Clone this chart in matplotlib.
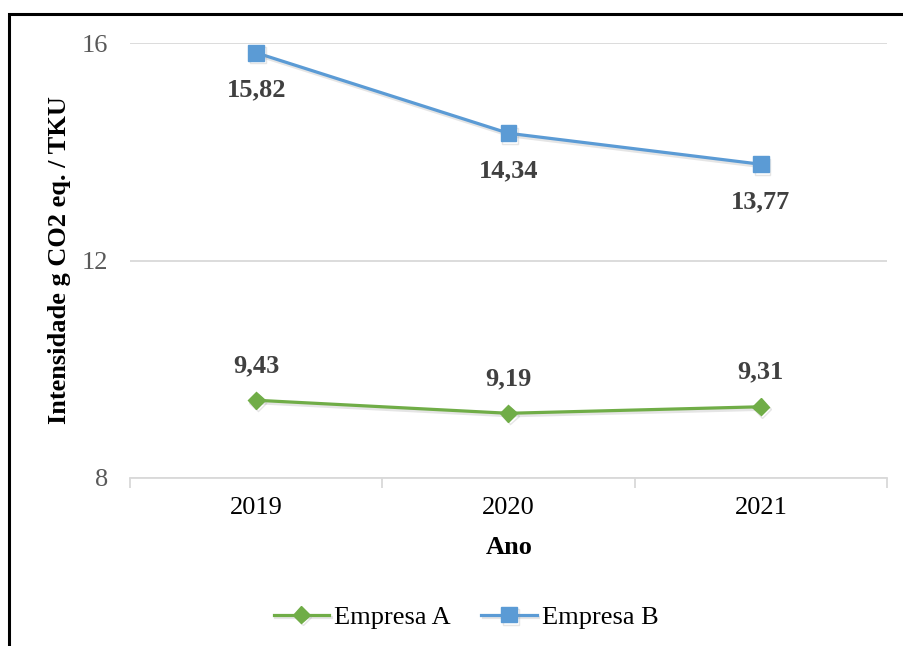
import matplotlib
matplotlib.use("Agg")
import matplotlib.pyplot as plt
import matplotlib.patheffects as pe
from matplotlib.patches import Rectangle

plt.rcParams['font.family'] = ['Liberation Serif', 'DejaVu Serif']

years = ["2019", "2020", "2021"]
empresa_a = [9.43, 9.19, 9.31]
empresa_b = [15.82, 14.34, 13.77]
labels_a = ["9,43", "9,19", "9,31"]
labels_b = ["15,82", "14,34", "13,77"]
yticks = [8, 12, 16]

W, H = 904, 646
fig = plt.figure(figsize=(W / 100, H / 100), dpi=100)
ax = fig.add_axes([130 / W, 1 - 478 / H, (887 - 130) / W, (478 - 43) / H])

x = list(range(len(years)))
shadow = [pe.SimpleLineShadow(offset=(1.2, -1.8), shadow_color='#999999', alpha=0.25), pe.Normal()]
ax.plot(x, empresa_a, color='#70AD47', lw=2.3, marker='D', ms=8.5,
        label='Empresa A', path_effects=shadow, zorder=3)
ax.plot(x, empresa_b, color='#5B9BD5', lw=2.3, marker='s', ms=11.5,
        label='Empresa B', path_effects=shadow, zorder=3)

for xi, v, t in zip(x, empresa_b, labels_b):
    ax.annotate(t, (xi, v), xytext=(0, -27), textcoords='offset points',
                ha='center', va='center', fontsize=19, fontweight='bold', color='#404040')
for xi, v, t in zip(x, empresa_a, labels_a):
    ax.annotate(t, (xi, v), xytext=(0, 25), textcoords='offset points',
                ha='center', va='center', fontsize=19, fontweight='bold', color='#404040')

ax.set_xlim(-0.5, len(years) - 0.5)
ax.set_ylim(8, 16)
ax.set_yticks(yticks)
ax.set_yticklabels([str(t) for t in yticks], fontsize=19, color='#595959')
ax.yaxis.grid(True, color='#D9D9D9', lw=1.3)
ax.set_axisbelow(True)
ax.tick_params(axis='y', length=0, pad=16)

ax.set_xticks([i - 0.5 for i in range(len(years) + 1)])
ax.set_xticklabels([])
ax.set_xticks(x, minor=True)
ax.set_xticklabels(years, minor=True, fontsize=19, color='#000000')
ax.tick_params(axis='x', which='major', length=7, color='#D9D9D9', width=1.3)
ax.tick_params(axis='x', which='minor', length=0, pad=14)

for s in ['top', 'right', 'left']:
    ax.spines[s].set_visible(False)
ax.spines['bottom'].set_color('#D9D9D9')
ax.spines['bottom'].set_linewidth(1.3)

fig.text(60 / W, 1 - 260 / H, 'Intensidade g CO2 eq. / TKU', rotation=90,
         ha='center', va='center', fontsize=19, fontweight='bold')
fig.text(509 / W, 1 - 548 / H, 'Ano', ha='center', va='center',
         fontsize=19, fontweight='bold')

leg = fig.legend(loc='center', bbox_to_anchor=(466 / W, 1 - 617 / H), ncol=2,
                 frameon=False, fontsize=19, handlelength=2.1, columnspacing=1.15,
                 handletextpad=0.2)

fig.patches.append(Rectangle((9 / W, -0.1), 1.2, 1 - 14 / H + 0.1, transform=fig.transFigure,
                             fill=False, edgecolor='black', lw=2.2))

fig.savefig('out.png', dpi=100)
